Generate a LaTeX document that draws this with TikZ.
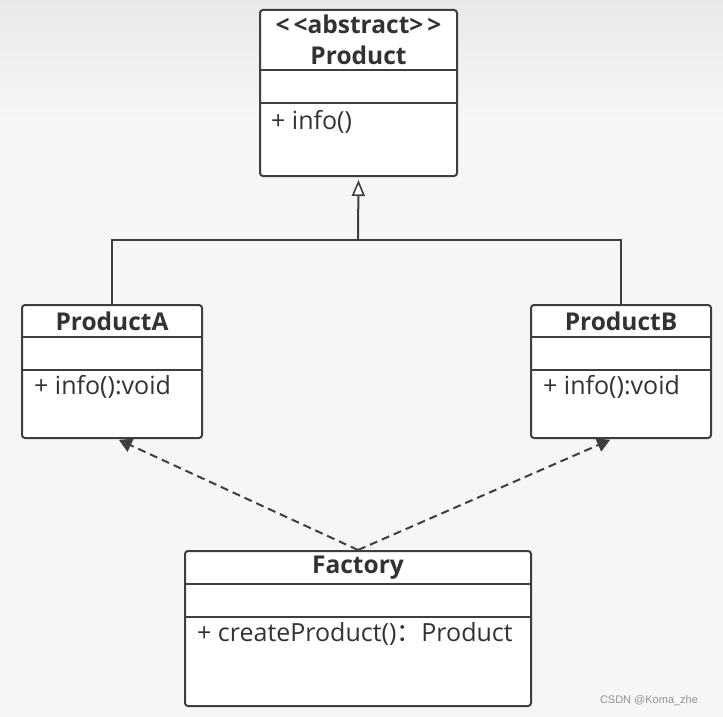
\documentclass[tikz,border=0pt]{standalone}
\usepackage{fontspec}
\setmainfont{Open Sans}
\newfontfamily\cjkfont{Noto Sans CJK SC}
\newfontfamily\markfont{Liberation Sans}
\usepackage{xcolor}
\usetikzlibrary{calc}
\usetikzlibrary{arrows.meta}
\definecolor{umlline}{RGB}{62,62,62}
\definecolor{umltext}{RGB}{50,50,50}
\definecolor{umlbg}{RGB}{246,246,246}
\definecolor{umltop}{RGB}{233,233,233}
\tikzset{
	classbox/.style={draw=umlline, fill=white, line width=2pt, rounded corners=3pt, inner sep=0pt},
	classname/.style={font=\bfseries\fontsize{24.5}{29}\selectfont, text=umltext, inner sep=0pt},
	member/.style={font=\fontsize{25}{29}\selectfont, text=umltext, anchor=west, inner sep=0pt},
	sepline/.style={draw=umlline, line width=2pt},
	generalize/.style={draw=umlline, line width=2pt, shorten >=3pt, -{Triangle[open, fill=white, length=16pt, width=13pt, line width=1.6pt]}},
	depends/.style={draw=umlline, line width=2pt, dash pattern=on 8pt off 5pt, shorten >=2pt, -{Triangle[length=13pt, width=14pt]}},
}
\begin{document}
\begin{tikzpicture}[x=1pt, y=-1pt]
		
		\fill[umlbg] (0,0) rectangle (723,717);
		\shade[top color=umltop, bottom color=umlbg] (0,0) rectangle (723,120);
		\useasboundingbox (0,0) rectangle (723,717);
		
		% Product
		\node[classbox, minimum width=197pt, minimum height=166pt] (product) at (358.5,93) {};
		\draw[sepline] ($(product.north west)+(0,61)$) -- ($(product.north east)+(0,61)$);
		\draw[sepline] ($(product.north west)+(0,94)$) -- ($(product.north east)+(0,94)$);
		\node[classname] (productstereo) at ($(product.north)+(0,15)$) {{<}\,{<}abstract{>}\,{>}};
		\node[classname] (productname) at ($(product.north)+(0,46)$) {Product};
		\node[member] (productinfo) at ($(product.north west)+(12,113)$) {+ info()};
		
		% ProductA
		\node[classbox, minimum width=180pt, minimum height=133pt] (producta) at (112,371.5) {};
		\draw[sepline] ($(producta.north west)+(0,33)$) -- ($(producta.north east)+(0,33)$);
		\draw[sepline] ($(producta.north west)+(0,66)$) -- ($(producta.north east)+(0,66)$);
		\node[classname] (productaname) at ($(producta.north)+(0,17)$) {ProductA};
		\node[member] (productainfo) at ($(producta.north west)+(13,83)$) {+ info():void};
		
		% ProductB
		\node[classbox, minimum width=180pt, minimum height=133pt] (productb) at (621,371.5) {};
		\draw[sepline] ($(productb.north west)+(0,33)$) -- ($(productb.north east)+(0,33)$);
		\draw[sepline] ($(productb.north west)+(0,66)$) -- ($(productb.north east)+(0,66)$);
		\node[classname] (productbname) at ($(productb.north)+(0,17)$) {ProductB};
		\node[member] (productbinfo) at ($(productb.north west)+(13,83)$) {+ info():void};
		
		% Factory
		\node[classbox, minimum width=346pt, minimum height=155pt] (factory) at (358,628.5) {};
		\draw[sepline] ($(factory.north west)+(0,34)$) -- ($(factory.north east)+(0,34)$);
		\draw[sepline] ($(factory.north west)+(0,67)$) -- ($(factory.north east)+(0,67)$);
		\node[classname] (factoryname) at ($(factory.north)+(0,18)$) {Factory};
		\node[member] (factorycreate) at ($(factory.north west)+(13,84)$) {+ createProduct(){\cjkfont ：}Product};
		
		% connectors
		\coordinate (branch) at (358,240);
		\draw[generalize] (branch) -- (product.south);
		\draw[sepline] (producta.north) |- (branch) -| (productb.north);
		\draw[depends] (factory.north) -- ([xshift=5pt]producta.south);
		\draw[depends] (factory.north) -- ([xshift=-9pt]productb.south);
		
		\node[font=\markfont\fontsize{11}{13}\selectfont, text=gray!85] (mark) at (649,701) {CSDN @Koma\_zhe};
		
	\end{tikzpicture}
\end{document}
